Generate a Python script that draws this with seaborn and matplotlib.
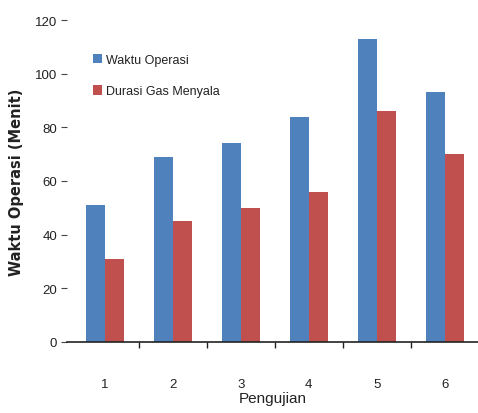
import matplotlib
matplotlib.use("Agg")
import matplotlib.pyplot as plt
import seaborn as sns
import pandas as pd
from matplotlib.ticker import FixedLocator

# Test runs and measured durations (minutes)
pengujian = ["1", "2", "3", "4", "5", "6"]
waktu_operasi = [51, 69, 74, 84, 113, 93]
durasi_gas_menyala = [31, 45, 50, 56, 86, 70]
series_names = ["Waktu Operasi", "Durasi Gas Menyala"]
y_ticks = [0, 20, 40, 60, 80, 100, 120]

df = pd.DataFrame({
    "Pengujian": pengujian * 2,
    "Menit": waktu_operasi + durasi_gas_menyala,
    "Seri": [series_names[0]] * len(pengujian) + [series_names[1]] * len(pengujian),
})

sns.set_theme(style="white")
plt.rcParams["font.family"] = ["Liberation Sans Narrow", "Liberation Sans", "DejaVu Sans"]

fig = plt.figure(figsize=(4.78, 4.14), dpi=100)
ax = fig.add_axes([67 / 478, 1 - 343 / 414, 1 - 67 / 478, (343 - 21) / 414])

palette = {series_names[0]: "#4F81BD", series_names[1]: "#C0504D"}
sns.barplot(data=df, x="Pengujian", y="Menit", hue="Seri", order=pengujian,
            hue_order=series_names, palette=palette, width=0.56, gap=0,
            saturation=1, linewidth=0, ax=ax, legend=True)

ax.set_xlim(-0.56, 5.49)
ax.set_ylim(0, 120)
ax.set_yticks(y_ticks)

for side in ["top", "right", "left"]:
    ax.spines[side].set_visible(False)
ax.spines["bottom"].set_color("#222222")
ax.spines["bottom"].set_linewidth(1.2)

# category labels centred under groups, small ticks between groups
ax.tick_params(axis="x", which="major", length=0, pad=26, labelsize=9.5, labelcolor="#222222")
ax.xaxis.set_minor_locator(FixedLocator([i + 0.5 for i in range(len(pengujian) - 1)]))
ax.tick_params(axis="x", which="minor", length=4, width=1, color="#222222", direction="out", bottom=True)
ax.tick_params(axis="y", which="major", left=True, length=4, width=0.8, color="#444444",
               direction="out", pad=3, labelsize=9.5, labelcolor="#222222")

ax.set_xlabel("Pengujian", fontsize=11, color="#222222", labelpad=1)
ax.set_ylabel("Waktu Operasi (Menit)", fontsize=10.5, fontweight="bold",
              color="#222222", fontfamily=["DejaVu Sans"], labelpad=8)

leg = ax.legend(loc="upper left", bbox_to_anchor=(0.05, 0.91), frameon=False,
                fontsize=9, handlelength=0.75, handleheight=0.75, handletextpad=0.3,
                labelspacing=1.55, borderaxespad=0)
for t in leg.get_texts():
    t.set_color("#222222")

fig.savefig("out.png", dpi=100)
